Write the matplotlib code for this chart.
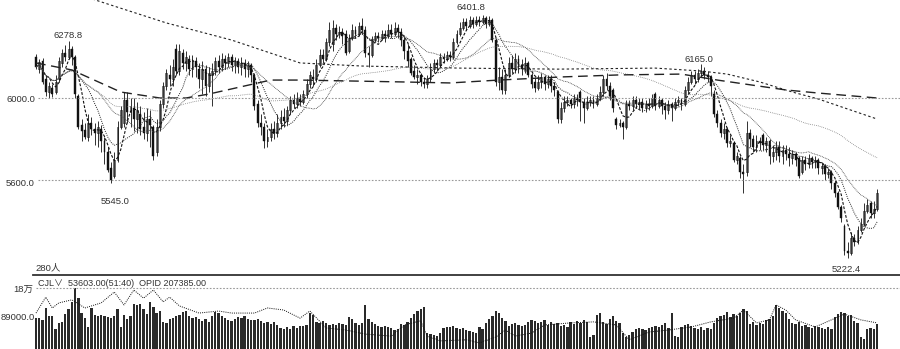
import numpy as np
import pandas as pd
import matplotlib
matplotlib.use("Agg")
import matplotlib.pyplot as plt
from matplotlib.lines import Line2D

plt.rcParams['font.family'] = ['Liberation Sans', 'Noto Sans CJK SC', 'DejaVu Sans']

# daily candles (price)
opens = [
    6200, 6140, 6180, 6090, 6030, 6050, 6030, 6090, 6170, 6220,
    6200, 6240, 6200, 6010, 5870, 5845, 5810, 5880, 5850, 5830,
    5850, 5790, 5740, 5660, 5620, 5700, 5860, 5880, 5990, 5930,
    5950, 5900, 5920, 5860, 5830, 5900, 5860, 5740, 5860, 5970,
    6060, 6110, 6090, 6240, 6130, 6220, 6170, 6190, 6140, 6180,
    6140, 6090, 6140, 6060, 6110, 6130, 6180, 6150, 6190, 6170,
    6200, 6160, 6180, 6150, 6170, 6140, 6160, 6110, 5970, 5880,
    5860, 5790, 5810, 5850, 5830, 5880, 5910, 5890, 5940, 5990,
    5970, 6000, 5980, 6020, 6070, 6100, 6090, 6160, 6210, 6190,
    6270, 6260, 6340, 6310, 6320, 6310, 6230, 6290, 6330, 6310,
    6350, 6330, 6220, 6210, 6280, 6300, 6290, 6310, 6300, 6330,
    6310, 6340, 6320, 6280, 6230, 6190, 6130, 6100, 6110, 6080,
    6070, 6090, 6140, 6170, 6160, 6200, 6190, 6210, 6200, 6270,
    6310, 6340, 6370, 6350, 6380, 6360, 6380, 6370, 6390, 6360,
    6380, 6280, 6080, 6100, 6040, 6110, 6170, 6140, 6190, 6160,
    6140, 6170, 6110, 6080, 6050, 6080, 6100, 6070, 6090, 6060,
    6030, 5900, 5950, 5980, 5990, 5970, 6000, 6030, 5980, 5950,
    5980, 5990, 5970, 6000, 6030, 6090, 6060, 6040, 5900, 5870,
    5880, 5860, 5970, 5960, 5990, 5970, 5980, 5950, 5970, 5960,
    6020, 5960, 5990, 5960, 5940, 5970, 5950, 5980, 5990, 5970,
    6040, 6080, 6110, 6090, 6120, 6130, 6110, 6100, 6020, 5920,
    5880, 5830, 5850, 5780, 5780, 5700, 5710, 5640, 5640, 5830,
    5800, 5760, 5790, 5820, 5770, 5790, 5720, 5740, 5760, 5720,
    5750, 5730, 5710, 5730, 5710, 5640, 5700, 5680, 5710, 5690,
    5700, 5660, 5670, 5630, 5640, 5590, 5540, 5470, 5380, 5260,
    5250, 5320, 5300, 5360, 5390, 5450, 5490, 5440, 5460,
]
highs = [
    6215, 6190, 6195, 6110, 6080, 6070, 6110, 6200, 6240, 6255,
    6278.8, 6250, 6210, 6020, 5900, 5880, 5920, 5910, 5880, 5890,
    5870, 5810, 5760, 5690, 5740, 5890, 5960, 6030, 6030, 6000,
    6000, 5980, 5960, 5930, 5950, 5940, 5870, 5900, 5990, 6080,
    6140, 6160, 6190, 6260, 6260, 6240, 6230, 6210, 6210, 6200,
    6170, 6180, 6160, 6150, 6170, 6200, 6210, 6220, 6210, 6220,
    6215, 6200, 6195, 6200, 6190, 6180, 6170, 6120, 5990, 5920,
    5880, 5850, 5880, 5890, 5920, 5940, 5950, 5960, 6010, 6020,
    6030, 6020, 6040, 6090, 6130, 6140, 6190, 6240, 6240, 6290,
    6370, 6380, 6360, 6350, 6340, 6330, 6310, 6360, 6350, 6370,
    6390, 6350, 6250, 6300, 6320, 6320, 6330, 6330, 6360, 6360,
    6370, 6360, 6340, 6300, 6260, 6200, 6160, 6140, 6120, 6100,
    6110, 6170, 6190, 6190, 6220, 6220, 6230, 6230, 6290, 6330,
    6370, 6390, 6390, 6400, 6395, 6400, 6398, 6401.8, 6400, 6400,
    6390, 6290, 6150, 6140, 6140, 6200, 6210, 6220, 6210, 6190,
    6200, 6180, 6120, 6100, 6110, 6120, 6110, 6110, 6110, 6080,
    6040, 5980, 6010, 6010, 6000, 6020, 6020, 6040, 6000, 6010,
    6010, 6010, 6020, 6060, 6110, 6120, 6080, 6050, 5910, 5900,
    5890, 5990, 5990, 6010, 6010, 6000, 6000, 5990, 6000, 6020,
    6030, 6010, 6000, 5980, 5990, 5980, 6000, 6010, 6000, 6060,
    6100, 6130, 6130, 6140, 6165, 6150, 6130, 6110, 6040, 5940,
    5900, 5880, 5860, 5820, 5790, 5740, 5720, 5680, 5890, 5850,
    5820, 5820, 5810, 5830, 5810, 5800, 5770, 5790, 5790, 5770,
    5770, 5760, 5750, 5740, 5720, 5720, 5720, 5730, 5720, 5720,
    5710, 5690, 5680, 5660, 5650, 5600, 5550, 5480, 5390, 5300,
    5350, 5340, 5380, 5420, 5490, 5510, 5500, 5500, 5560,
]
lows = [
    6140, 6120, 6070, 6010, 6000, 6005, 6020, 6080, 6150, 6180,
    6190, 6160, 6000, 5850, 5790, 5800, 5790, 5820, 5770, 5760,
    5740, 5680, 5640, 5590, 5610, 5690, 5850, 5860, 5880, 5860,
    5840, 5830, 5820, 5800, 5790, 5760, 5700, 5720, 5840, 5950,
    6040, 6060, 6060, 6110, 6110, 6140, 6130, 6110, 6100, 6100,
    6050, 6020, 6010, 6030, 5960, 6110, 6120, 6130, 6140, 6150,
    6130, 6120, 6120, 6110, 6100, 6100, 6080, 5940, 5860, 5820,
    5757, 5760, 5790, 5800, 5810, 5850, 5860, 5870, 5920, 5950,
    5950, 5960, 5970, 6000, 6050, 6060, 6080, 6150, 6170, 6180,
    6250, 6230, 6280, 6290, 6260, 6210, 6220, 6280, 6290, 6300,
    6310, 6200, 6150, 6200, 6270, 6270, 6280, 6270, 6290, 6290,
    6300, 6290, 6250, 6190, 6150, 6110, 6090, 6070, 6060, 6050,
    6050, 6080, 6120, 6130, 6150, 6170, 6180, 6180, 6190, 6260,
    6300, 6330, 6330, 6340, 6340, 6350, 6350, 6360, 6340, 6350,
    6270, 6060, 6040, 6020, 6020, 6100, 6120, 6120, 6120, 6110,
    6120, 6100, 6050, 6030, 6040, 6050, 6040, 6050, 6030, 6010,
    5880, 5880, 5930, 5960, 5950, 5950, 5960, 5890, 5880, 5940,
    5960, 5950, 5960, 5990, 6010, 6040, 5990, 5930, 5850, 5860,
    5800, 5850, 5940, 5940, 5950, 5940, 5930, 5930, 5940, 5950,
    5940, 5950, 5920, 5900, 5920, 5890, 5940, 5960, 5940, 5960,
    6020, 6070, 6070, 6080, 6100, 6090, 6080, 6010, 5910, 5860,
    5810, 5800, 5760, 5760, 5690, 5680, 5610, 5540, 5620, 5760,
    5740, 5740, 5750, 5750, 5740, 5680, 5690, 5700, 5690, 5680,
    5700, 5670, 5680, 5670, 5610, 5630, 5650, 5660, 5660, 5660,
    5630, 5630, 5600, 5610, 5560, 5520, 5460, 5400, 5240, 5222.4,
    5240, 5280, 5290, 5350, 5380, 5440, 5420, 5420, 5450,
]
closes = [
    6150, 6175, 6080, 6030, 6060, 6020, 6080, 6180, 6220, 6200,
    6240, 6200, 6020, 5860, 5840, 5810, 5880, 5850, 5830, 5860,
    5790, 5740, 5650, 5600, 5700, 5860, 5940, 5990, 5930, 5960,
    5900, 5940, 5850, 5830, 5900, 5870, 5720, 5860, 5970, 6060,
    6120, 6090, 6150, 6130, 6230, 6170, 6200, 6140, 6180, 6150,
    6090, 6140, 6060, 6120, 6130, 6180, 6150, 6190, 6170, 6200,
    6160, 6180, 6150, 6170, 6140, 6160, 6110, 5960, 5880, 5860,
    5790, 5810, 5850, 5830, 5880, 5910, 5890, 5940, 5990, 5970,
    6000, 5980, 6020, 6070, 6110, 6090, 6160, 6210, 6190, 6270,
    6330, 6340, 6310, 6320, 6300, 6220, 6290, 6330, 6310, 6350,
    6330, 6220, 6210, 6280, 6300, 6290, 6310, 6300, 6330, 6310,
    6340, 6320, 6280, 6230, 6180, 6120, 6100, 6110, 6080, 6070,
    6090, 6140, 6170, 6160, 6200, 6190, 6210, 6200, 6270, 6310,
    6340, 6370, 6350, 6380, 6360, 6380, 6370, 6390, 6360, 6380,
    6280, 6080, 6100, 6040, 6110, 6170, 6140, 6190, 6160, 6140,
    6170, 6110, 6070, 6050, 6080, 6100, 6070, 6090, 6060, 6040,
    5900, 5950, 5980, 5990, 5970, 6000, 5990, 5980, 5950, 5980,
    5990, 5970, 6000, 6030, 6090, 6060, 6010, 5950, 5870, 5880,
    5860, 5970, 5960, 5990, 5970, 5980, 5950, 5970, 5960, 6000,
    5960, 5990, 5960, 5940, 5970, 5950, 5980, 5990, 5970, 6040,
    6080, 6110, 6090, 6120, 6130, 6110, 6100, 6060, 5920, 5880,
    5830, 5850, 5780, 5790, 5700, 5720, 5640, 5630, 5830, 5800,
    5760, 5790, 5780, 5770, 5790, 5720, 5740, 5760, 5720, 5750,
    5730, 5710, 5730, 5700, 5620, 5700, 5680, 5710, 5690, 5700,
    5660, 5670, 5630, 5640, 5590, 5540, 5470, 5420, 5260, 5250,
    5320, 5300, 5360, 5390, 5450, 5480, 5440, 5460, 5540,
]

# volume, thousand lots
volume_k = [
    91, 91, 86, 121, 97, 97, 59, 77, 80, 103,
    118, 139, 180, 150, 106, 91, 65, 121, 100, 97,
    100, 97, 94, 91, 97, 118, 65, 100, 89, 97,
    133, 130, 133, 118, 103, 139, 124, 106, 112, 80,
    77, 89, 91, 97, 100, 109, 112, 97, 91, 94,
    89, 83, 89, 80, 97, 109, 106, 97, 91, 86,
    83, 89, 94, 91, 97, 89, 86, 86, 89, 83,
    77, 80, 74, 80, 71, 62, 59, 65, 59, 68,
    62, 68, 68, 71, 106, 100, 80, 77, 83, 77,
    71, 74, 71, 77, 74, 71, 94, 89, 77, 71,
    77, 130, 89, 80, 74, 68, 65, 68, 65, 62,
    56, 59, 74, 71, 80, 91, 103, 112, 118, 124,
    47, 44, 41, 38, 47, 62, 65, 65, 68, 62,
    59, 62, 56, 53, 50, 47, 65, 59, 77, 89,
    97, 112, 106, 91, 83, 68, 74, 77, 71, 68,
    71, 80, 86, 83, 77, 80, 86, 71, 80, 74,
    77, 68, 71, 65, 80, 74, 83, 77, 86, 80,
    35, 41, 100, 106, 80, 74, 89, 97, 83, 77,
    47, 35, 41, 50, 59, 62, 59, 56, 62, 65,
    68, 65, 71, 77, 62, 106, 38, 35, 65, 71,
    74, 68, 62, 59, 65, 56, 62, 59, 77, 91,
    97, 100, 109, 94, 103, 97, 106, 118, 112, 74,
    80, 71, 77, 74, 86, 89, 97, 130, 121, 112,
    106, 89, 77, 74, 80, 68, 71, 65, 62, 68,
    65, 62, 59, 65, 59, 94, 103, 109, 106, 97,
    100, 83, 77, 35, 30, 59, 62, 59, 74,
]

# open-interest style line in the volume panel (bar index, thousand)
opid_idx = [0, 3, 5, 7, 11, 15, 20, 24, 27, 30, 33, 36, 39, 41, 44, 50, 56, 60, 67, 71,
            76, 81, 84, 89, 95, 101, 109, 113, 118, 120, 124, 132, 136, 141, 144, 147,
            152, 156, 164, 171, 178, 182, 188, 194, 201, 207, 214, 217, 221, 225, 227,
            230, 233, 239, 244, 248, 253, 258]
opid_k = [106, 153, 121, 136, 145, 121, 136, 168, 130, 174, 150, 174, 139, 153, 127, 106,
          112, 106, 106, 121, 115, 91, 112, 62, 56, 44, 38, 71, 83, 38, 24, 27, 18, 35, 56,
          38, 47, 71, 77, 80, 71, 27, 50, 56, 65, 80, 91, 115, 77, 86, 130, 115, 86, 65,
          86, 103, 86, 77]

# long averages
ma120_idx = [0, 11, 26, 38, 46, 53, 72, 81, 112, 127, 142, 161, 179, 198, 209, 230, 240, 258]
ma120_val = [6170, 6136, 6029, 6000, 6000, 6019, 6087, 6087, 6078, 6073, 6087, 6102, 6112,
             6116, 6087, 6039, 6024, 6000]
ma250_idx = [0, 20, 40, 60, 81, 100, 130, 160, 190, 204, 212, 222, 232, 240, 258]
ma250_val = [6572, 6466, 6364, 6281, 6170, 6155, 6145, 6140, 6145, 6131, 6116, 6078, 6029,
             5995, 5898]

W, H = 900, 349
fig = plt.figure(figsize=(W / 100, H / 100), dpi=100)
ax = fig.add_axes([0, 74 / H, 1, 275 / H])
axv = fig.add_axes([0, 0, 1, 73 / H])

x = np.arange(len(closes))
o = np.array(opens, float)
c = np.array(closes, float)
hi = np.array(highs, float)
lo = np.array(lows, float)
up = c >= o

# candles: black = down, hollow = up
ax.vlines(x, lo, hi, color='#111', lw=0.6)
body_h = np.maximum(np.abs(c - o), 3)
ax.bar(x[~up], body_h[~up], bottom=np.minimum(o, c)[~up], width=0.58,
       color='#111', edgecolor='#111', lw=0.3)
ax.bar(x[up], body_h[up], bottom=np.minimum(o, c)[up], width=0.58,
       color='white', edgecolor='#222', lw=0.45)

# moving averages
s = pd.Series(c)
ax.plot(x, s.rolling(5, min_periods=1).mean(), color='#111', lw=0.8, ls=(0, (2.5, 1.5)))
ax.plot(x, s.rolling(10, min_periods=1).mean(), color='#222', lw=0.7, ls=(0, (1, 1.2)))
ax.plot(x, s.rolling(20, min_periods=1).mean(), color='#444', lw=0.6, ls=(0, (1, 1)))
ax.plot(x, s.rolling(60, min_periods=1).mean(), color='#666', lw=0.6, ls=(0, (0.8, 1.5)))
ax.plot(ma120_idx, ma120_val, color='#222', lw=1.0, ls=(0, (7, 4)))
ax.plot(ma250_idx, ma250_val, color='#222', lw=0.8, ls=(0, (2.2, 2.2)))

xl = (-36 / 3.26, (W - 36) / 3.26)
ax.set_xlim(*xl)
ax.set_ylim(6000 - 177 * 4.85, 6000 + 98 * 4.85)
ax.axis('off')

for lvl in (6000, 5600):
    ax.axhline(lvl, xmin=38 / W, xmax=1, color='#999', lw=0.8, ls=(0, (1.5, 1.5)))

# volume panel
vol = np.array(volume_k) * 1000
axv.bar(x, vol, width=0.7, color='#2a2a2a', lw=0)
axv.plot(opid_idx, np.array(opid_k) * 1000, color='#111', lw=0.7, ls=(0, (1, 1.2)))
axv.axhline(180000, xmin=36 / W, xmax=1, color='#999', lw=0.8, ls=(0, (1.5, 1.5)))
axv.set_xlim(*xl)
axv.set_ylim(0, 73 * 2950)
axv.axis('off')

fig.add_artist(Line2D([33 / W, 1], [1 - 275 / H] * 2, color='#333', lw=1.3))


def ftext(xp, yp, txt, ha='center', size=6.8):
    fig.text(xp / W, 1 - yp / H, txt, ha=ha, va='center', fontsize=size, color='#333')


ftext(35, 99, '6000.0', ha='right')
ftext(35, 184, '5600.0', ha='right')
ftext(68, 36, '6278.8')
ftext(115, 201, '5545.0')
ftext(471, 8, '6401.8')
ftext(699, 60, '6165.0')
ftext(846, 270, '5222.4')
ftext(35, 268, '280人', ha='left')
ftext(38, 283, 'CJL∨  53603.00(51:40)  OPID 207385.00', ha='left', size=6.5)
ftext(33, 289, '18万', ha='right')
ftext(35, 318, '89000.0', ha='right')

fig.savefig('out.png', dpi=100, facecolor='white')
